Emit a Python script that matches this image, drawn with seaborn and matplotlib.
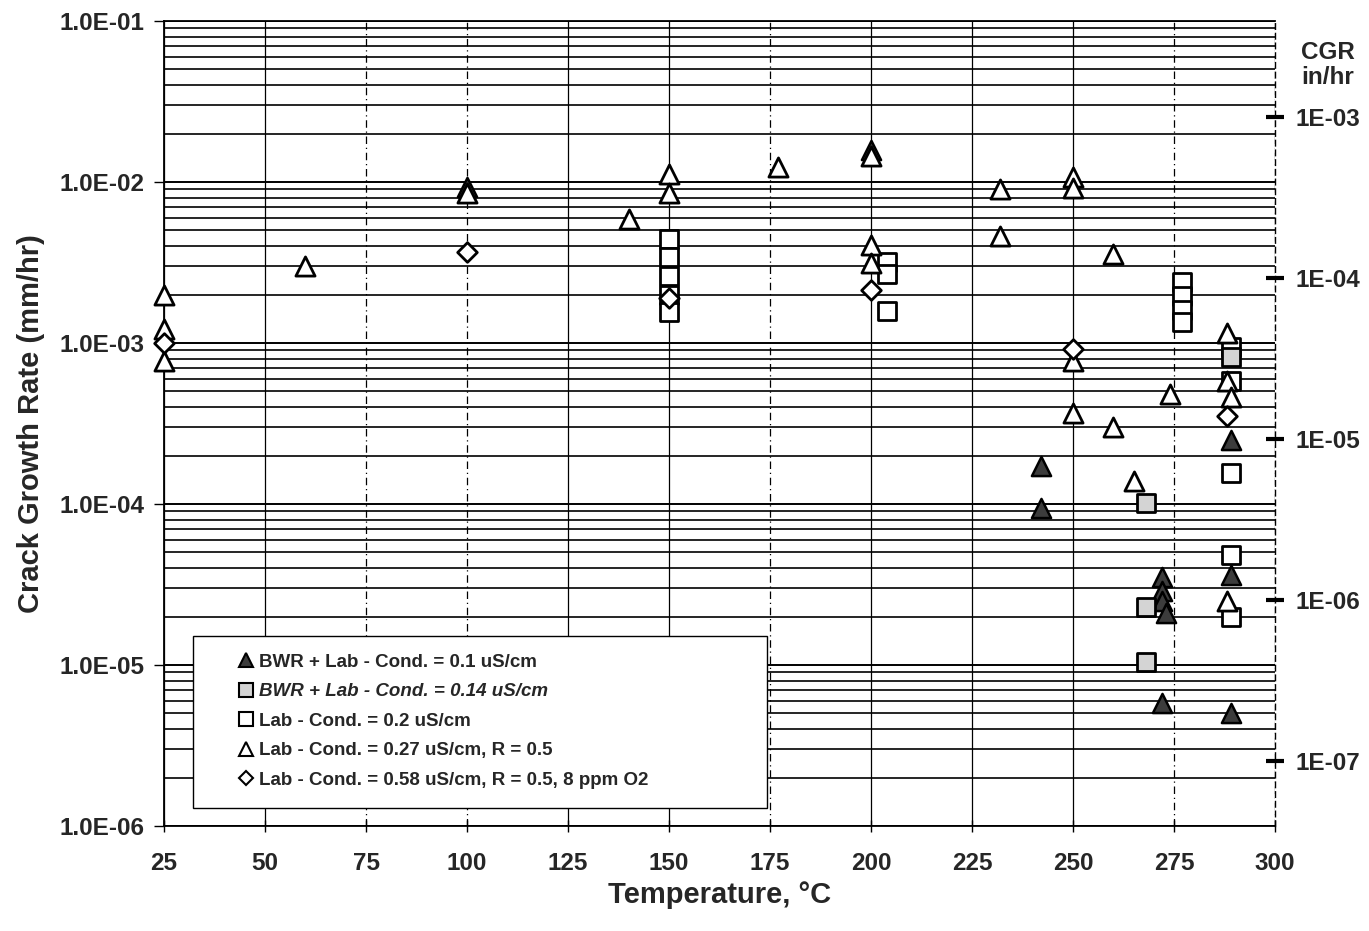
import matplotlib
matplotlib.use("Agg")
import matplotlib.pyplot as plt
import seaborn as sns
import numpy as np
from matplotlib.lines import Line2D
from matplotlib.patches import Rectangle
from matplotlib.ticker import LogLocator, NullLocator, FixedLocator, NullFormatter

# ---------------- data ----------------
bwr01_T = [100, 200, 242, 242, 272, 272, 272, 273, 272, 289, 289, 289]
bwr01_cgr = [9.3e-3, 1.58e-2, 1.72e-4, 9.5e-5, 3.5e-5, 2.9e-5, 2.5e-5, 2.1e-5, 5.8e-6, 2.5e-4, 3.6e-5, 5.0e-6]

bwr014_T = [268, 268, 268, 289]
bwr014_cgr = [1.02e-4, 2.3e-5, 1.05e-5, 8.2e-4]

lab02_T = [150, 150, 150, 150, 150, 204, 204, 204, 277, 277, 277, 277, 289, 289, 289, 289, 289]
lab02_cgr = [4.4e-3, 3.4e-3, 2.6e-3, 2.0e-3, 1.55e-3, 3.2e-3, 2.7e-3, 1.57e-3,
             2.4e-3, 1.95e-3, 1.6e-3, 1.35e-3, 9.5e-4, 5.8e-4, 1.55e-4, 4.8e-5, 2.0e-5]

lab027_T = [25, 25, 25, 60, 100, 140, 150, 150, 177, 200, 200, 200, 232, 232,
            250, 250, 250, 250, 260, 260, 265, 274, 288, 288, 289, 288]
lab027_cgr = [2.0e-3, 1.22e-3, 7.7e-4, 3.0e-3, 8.5e-3, 5.9e-3, 1.12e-2, 8.6e-3, 1.24e-2,
              1.45e-2, 4.05e-3, 3.15e-3, 9.0e-3, 4.6e-3, 1.07e-2, 9.2e-3, 7.7e-4, 3.7e-4,
              3.55e-3, 3.0e-4, 1.38e-4, 4.8e-4, 1.16e-3, 5.8e-4, 4.6e-4, 2.5e-5]

lab058_T = [25, 100, 150, 200, 250, 288]
lab058_cgr = [1.0e-3, 3.7e-3, 1.9e-3, 2.12e-3, 9.2e-4, 3.5e-4]

series_labels = ["BWR + Lab - Cond. = 0.1 uS/cm",
                 "BWR + Lab - Cond. = 0.14 uS/cm",
                 "Lab - Cond. = 0.2 uS/cm",
                 "Lab - Cond. = 0.27 uS/cm, R = 0.5",
                 "Lab - Cond. = 0.58 uS/cm, R = 0.5, 8 ppm O2"]

x_ticks = [25, 50, 75, 100, 125, 150, 175, 200, 225, 250, 275, 300]
y_ticks = [1e-6, 1e-5, 1e-4, 1e-3, 1e-2, 1e-1]
in_ticks = [1e-7, 1e-6, 1e-5, 1e-4, 1e-3]
MM_PER_IN = 25.4

# ---------------- style ----------------
sns.set_theme(style="white")
plt.rcParams['font.family'] = ['Liberation Sans', 'DejaVu Sans']
plt.rcParams['font.weight'] = 'bold'

fig = plt.figure(figsize=(13.69, 9.31), dpi=100)
ax = fig.add_axes([164 / 1369, 105 / 931, 1111 / 1369, 805 / 931])

ax.set_yscale('log')
ax.set_xlim(25, 300)
ax.set_ylim(1e-6, 1e-1)

# grid
ax.yaxis.set_major_locator(FixedLocator(y_ticks))
ax.yaxis.set_minor_locator(LogLocator(base=10, subs=np.arange(2, 10)))
ax.yaxis.set_minor_formatter(NullFormatter())
ax.set_xticks(x_ticks)
ax.grid(True, which='major', axis='y', color='black', lw=1.4)
ax.grid(True, which='minor', axis='y', color='black', lw=1.2)
ax.grid(True, which='major', axis='x', color='black', lw=0.9)
dashed = {75, 100, 175, 275, 300}
for t, gl in zip(x_ticks, ax.get_xgridlines()):
    if t in dashed:
        gl.set_linestyle((0, (6, 3, 1, 3)))

# data
common = dict(edgecolor='black', ax=ax, legend=False, clip_on=False)
sns.scatterplot(x=bwr01_T, y=bwr01_cgr, marker='^', s=190, color='#3c3c3c', linewidth=1.8, zorder=3, **common)
sns.scatterplot(x=bwr014_T, y=bwr014_cgr, marker='s', s=180, color='#d4d4d4', linewidth=2.0, zorder=5, **common)
sns.scatterplot(x=lab02_T, y=lab02_cgr, marker='s', s=180, color='white', linewidth=2.0, zorder=3, **common)
sns.scatterplot(x=lab027_T, y=lab027_cgr, marker='^', s=190, color='white', linewidth=2.0, zorder=4, **common)
sns.scatterplot(x=lab058_T, y=lab058_cgr, marker='D', s=100, color='white', linewidth=2.0, zorder=6, **common)

# ticks / labels
ax.set_yticklabels(["%.1E" % v for v in y_ticks], fontsize=17.5, fontweight='bold')
ax.set_xticklabels([str(t) for t in x_ticks], fontsize=17.5, fontweight='bold')
ax.tick_params(axis='y', which='major', direction='out', length=7, width=1, color='black', left=True, pad=7)
ax.tick_params(axis='y', which='minor', length=0)
ax.tick_params(axis='x', which='major', direction='inout', length=8, width=1, color='black', bottom=True, pad=15)

ax.set_xlabel("Temperature, °C", fontsize=21, fontweight='bold')
ax.set_ylabel("Crack Growth Rate (mm/hr)", fontsize=21, fontweight='bold')
ax.xaxis.set_label_coords(0.5, -0.068)
ax.yaxis.set_label_coords(-0.107, 0.5)

for side in ['left', 'bottom', 'top']:
    ax.spines[side].set_color('black')
    ax.spines[side].set_linewidth(1.3)
ax.spines['right'].set_visible(False)

# secondary axis in in/hr
ax2 = ax.twinx()
ax2.set_yscale('log')
ax2.set_ylim(1e-6 / MM_PER_IN, 1e-1 / MM_PER_IN)
ax2.yaxis.set_major_locator(FixedLocator(in_ticks))
ax2.yaxis.set_minor_locator(NullLocator())
ax2.set_yticklabels(["%.0E" % v for v in in_ticks], fontsize=17.5, fontweight='bold')
ax2.tick_params(axis='y', which='major', direction='inout', length=13, width=3, color='black', right=True, pad=8)
for side in ['left', 'bottom', 'top']:
    ax2.spines[side].set_visible(False)
ax2.spines['right'].set_color('black')
ax2.spines['right'].set_linewidth(1.0)
ax2.spines['right'].set_linestyle((0, (4, 3)))
ax2.grid(False)

fig.text(1328 / 1369, 1 - 65 / 931, "CGR\nin/hr", ha='center', va='center',
         fontsize=17.5, fontweight='bold', linespacing=1.15)

# legend: frame drawn as a box, entries placed inside
box = Rectangle((0.0261, 0.0224), 0.5167, 0.2136, transform=ax.transAxes,
                facecolor='white', edgecolor='black', lw=1.0, zorder=9, clip_on=False)
ax.add_patch(box)
handles = [
    Line2D([], [], marker='^', ls='none', ms=10, mfc='#3c3c3c', mec='black', mew=1.5),
    Line2D([], [], marker='s', ls='none', ms=9.5, mfc='#d4d4d4', mec='black', mew=1.5),
    Line2D([], [], marker='s', ls='none', ms=9.5, mfc='white', mec='black', mew=1.5),
    Line2D([], [], marker='^', ls='none', ms=10, mfc='white', mec='black', mew=1.5),
    Line2D([], [], marker='D', ls='none', ms=7, mfc='white', mec='black', mew=1.5),
]
leg = ax.legend(handles, series_labels, loc='lower left',
                bbox_to_anchor=((237 - 164) / 1111, (826 - 789) / 805),
                prop={'size': 13.5, 'weight': 'bold'}, frameon=False,
                handlelength=1.0, handletextpad=0.15,
                labelspacing=0.66, borderpad=0, borderaxespad=0)
leg.get_texts()[1].set_style('italic')
leg.set_zorder(10)

fig.savefig("out.png", dpi=100)
